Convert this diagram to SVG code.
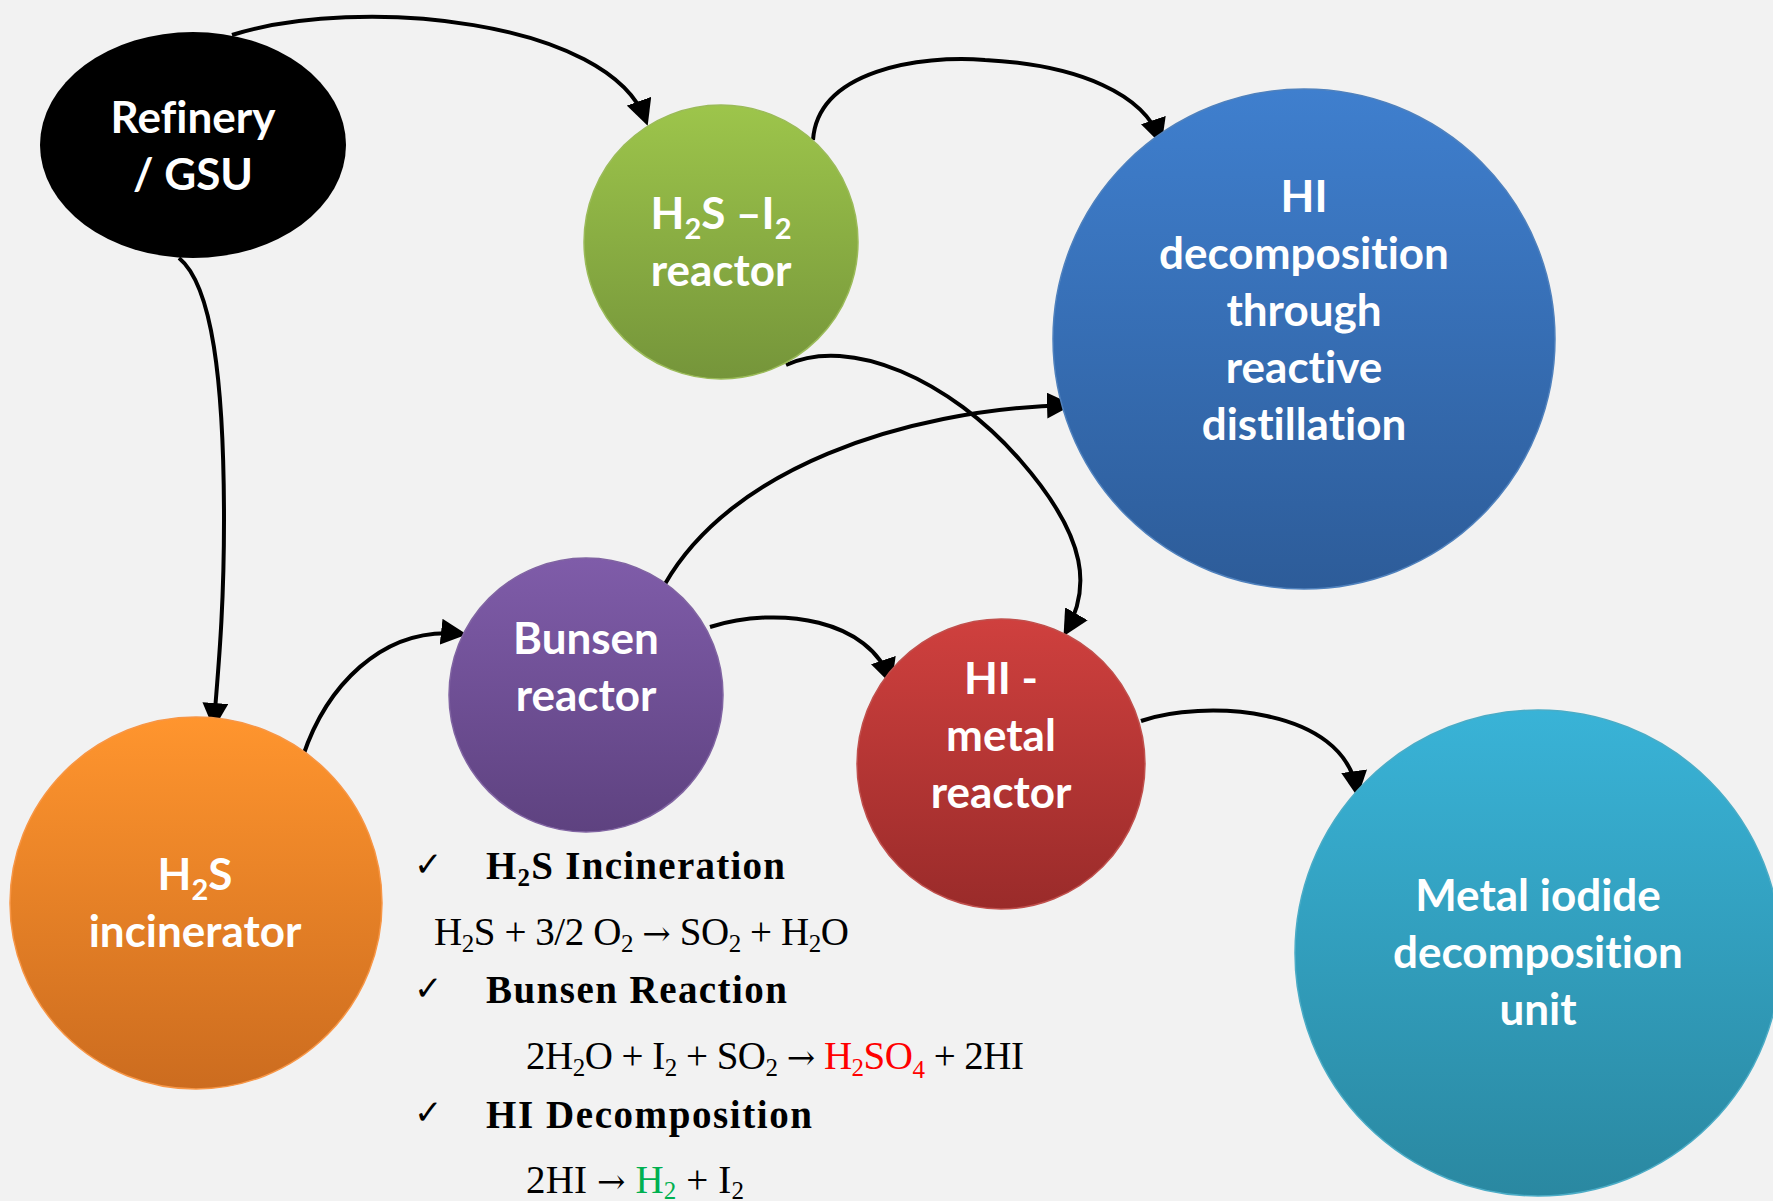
<svg xmlns="http://www.w3.org/2000/svg" width="1773" height="1201" viewBox="0 0 1773 1201">
<style>
.lbl{font-family:Lato,"Open Sans","Liberation Sans",sans-serif;font-weight:bold;font-size:44px;fill:#ffffff;text-anchor:middle;font-variant-ligatures:none}
.conn{fill:none;stroke:#000;stroke-width:4}
.eq{font-family:"Liberation Serif","Times New Roman",serif;font-size:39px;fill:#000}
.eqb{font-family:"Liberation Serif","Times New Roman",serif;font-size:39px;font-weight:bold;fill:#000}
.chk{font-family:"DejaVu Sans",sans-serif;font-size:34px;font-weight:bold;fill:#000}
.ar{font-family:"DejaVu Serif","DejaVu Sans",serif;font-size:34px}
</style>
<defs>
<linearGradient id="gGreen" x1="0" y1="0" x2="0" y2="1"><stop offset="0" stop-color="#9DC54B"/><stop offset="1" stop-color="#75953A"/></linearGradient>
<linearGradient id="gBlue" x1="0" y1="0" x2="0" y2="1"><stop offset="0" stop-color="#3F7FCE"/><stop offset="1" stop-color="#2D5C99"/></linearGradient>
<linearGradient id="gPurple" x1="0" y1="0" x2="0" y2="1"><stop offset="0" stop-color="#7F5CA9"/><stop offset="1" stop-color="#5E4280"/></linearGradient>
<linearGradient id="gRed" x1="0" y1="0" x2="0" y2="1"><stop offset="0" stop-color="#CF403E"/><stop offset="1" stop-color="#9A2B2A"/></linearGradient>
<linearGradient id="gOrange" x1="0" y1="0" x2="0" y2="1"><stop offset="0" stop-color="#FF952E"/><stop offset="1" stop-color="#CC6C1F"/></linearGradient>
<linearGradient id="gCyan" x1="0" y1="0" x2="0" y2="1"><stop offset="0" stop-color="#39B3D7"/><stop offset="1" stop-color="#2A88A1"/></linearGradient>
<marker id="arr" markerUnits="userSpaceOnUse" markerWidth="26" markerHeight="26" refX="21" refY="13" orient="auto">
<path d="M0,0 L26,13 L0,26 z" fill="#000"/>
</marker>
</defs>
<rect width="1773" height="1201" fill="#F2F2F2"/>

<g id="connectors">
<path class="conn" marker-end="url(#arr)" d="M232,35 C360,-5 610,20 646,121"/>
<path class="conn" marker-end="url(#arr)" d="M179,258 C212,285 224,380 224,520 C224,620 217,680 214,724"/>
<path class="conn" marker-end="url(#arr)" d="M813,140 C818,70 920,55 985,60 C1080,65 1145,95 1160,140"/>
<path class="conn" marker-end="url(#arr)" d="M786,365 C850,335 950,380 1020,460 C1090,540 1090,590 1066,632"/>
<path class="conn" marker-end="url(#arr)" d="M665,584 C730,470 900,410 1068,405"/>
<path class="conn" marker-end="url(#arr)" d="M303,756 C325,690 380,625 462,634"/>
<path class="conn" marker-end="url(#arr)" d="M710,627 C780,605 870,620 890,680"/>
<path class="conn" marker-end="url(#arr)" d="M1141,721 C1200,700 1345,705 1357,792"/>
</g>

<g id="refinery">
<ellipse cx="193" cy="145" rx="153" ry="113" fill="#000"/>
<text class="lbl" x="193" y="133">Refinery</text>
<text class="lbl" x="193" y="190">/ GSU</text>
</g>

<g id="h2s-i2-reactor">
<circle cx="721" cy="242" r="137" fill="url(#gGreen)" stroke="#9BBB59" stroke-width="1.5"/>
<text class="lbl" x="721" y="229">H<tspan font-size="29" dy="10">2</tspan><tspan dy="-10">S –I</tspan><tspan font-size="29" dy="10">2</tspan></text>
<text class="lbl" x="721" y="286">reactor</text>
</g>

<g id="hi-decomposition">
<ellipse cx="1304" cy="339" rx="251" ry="250" fill="url(#gBlue)" stroke="#4F81BD" stroke-width="1.5"/>
<text class="lbl" x="1304" y="212">HI</text>
<text class="lbl" x="1304" y="269">decomposition</text>
<text class="lbl" x="1304" y="326">through</text>
<text class="lbl" x="1304" y="383">reactive</text>
<text class="lbl" x="1304" y="440">distillation</text>
</g>

<g id="bunsen-reactor">
<circle cx="586" cy="695" r="137" fill="url(#gPurple)" stroke="#8064A2" stroke-width="1.5"/>
<text class="lbl" x="586" y="654">Bunsen</text>
<text class="lbl" x="586" y="711">reactor</text>
</g>

<g id="hi-metal-reactor">
<ellipse cx="1001" cy="764" rx="144" ry="145" fill="url(#gRed)" stroke="#C0504D" stroke-width="1.5"/>
<text class="lbl" x="1001" y="694">HI -</text>
<text class="lbl" x="1001" y="751">metal</text>
<text class="lbl" x="1001" y="808">reactor</text>
</g>

<g id="h2s-incinerator">
<circle cx="196" cy="903" r="186" fill="url(#gOrange)" stroke="#F79646" stroke-width="1.5"/>
<text class="lbl" x="195" y="890">H<tspan font-size="29" dy="10">2</tspan><tspan dy="-10">S</tspan></text>
<text class="lbl" x="195" y="947">incinerator</text>
</g>

<g id="metal-iodide-unit">
<ellipse cx="1538" cy="953" rx="243" ry="243" fill="url(#gCyan)" stroke="#4BACC6" stroke-width="1.5"/>
<text class="lbl" x="1538" y="911">Metal iodide</text>
<text class="lbl" x="1538" y="968">decomposition</text>
<text class="lbl" x="1538" y="1025">unit</text>
</g>

<g id="equations">
<text class="chk" x="414" y="876">✓</text>
<text class="eqb" x="486" y="879" textLength="299">H<tspan font-size="25" dy="7">2</tspan><tspan dy="-7">S Incineration</tspan></text>
<text class="eq" x="434" y="945" textLength="415">H<tspan font-size="25" dy="7">2</tspan><tspan dy="-7">S + 3/2 O</tspan><tspan font-size="25" dy="7">2</tspan><tspan dy="-7"> </tspan><tspan class="ar">→</tspan> SO<tspan font-size="25" dy="7">2</tspan><tspan dy="-7"> + H</tspan><tspan font-size="25" dy="7">2</tspan><tspan dy="-7">O</tspan></text>
<text class="chk" x="414" y="1000">✓</text>
<text class="eqb" x="486" y="1003" textLength="301">Bunsen Reaction</text>
<text class="eq" x="526" y="1069" textLength="498">2H<tspan font-size="25" dy="7">2</tspan><tspan dy="-7">O + I</tspan><tspan font-size="25" dy="7">2</tspan><tspan dy="-7"> + SO</tspan><tspan font-size="25" dy="7">2</tspan><tspan dy="-7"> </tspan><tspan class="ar">→</tspan> <tspan fill="#FF0000">H</tspan><tspan fill="#FF0000" font-size="25" dy="7">2</tspan><tspan fill="#FF0000" dy="-7">SO</tspan><tspan fill="#FF0000" font-size="25" dy="9">4</tspan><tspan dy="-9"> + 2HI</tspan></text>
<text class="chk" x="414" y="1124">✓</text>
<text class="eqb" x="486" y="1128" textLength="326">HI Decomposition</text>
<text class="eq" x="526" y="1193" textLength="218">2HI <tspan class="ar">→</tspan> <tspan fill="#00B050">H</tspan><tspan fill="#00B050" font-size="25" dy="6">2</tspan><tspan dy="-6"> + I</tspan><tspan font-size="25" dy="6">2</tspan></text>
</g>
</svg>
